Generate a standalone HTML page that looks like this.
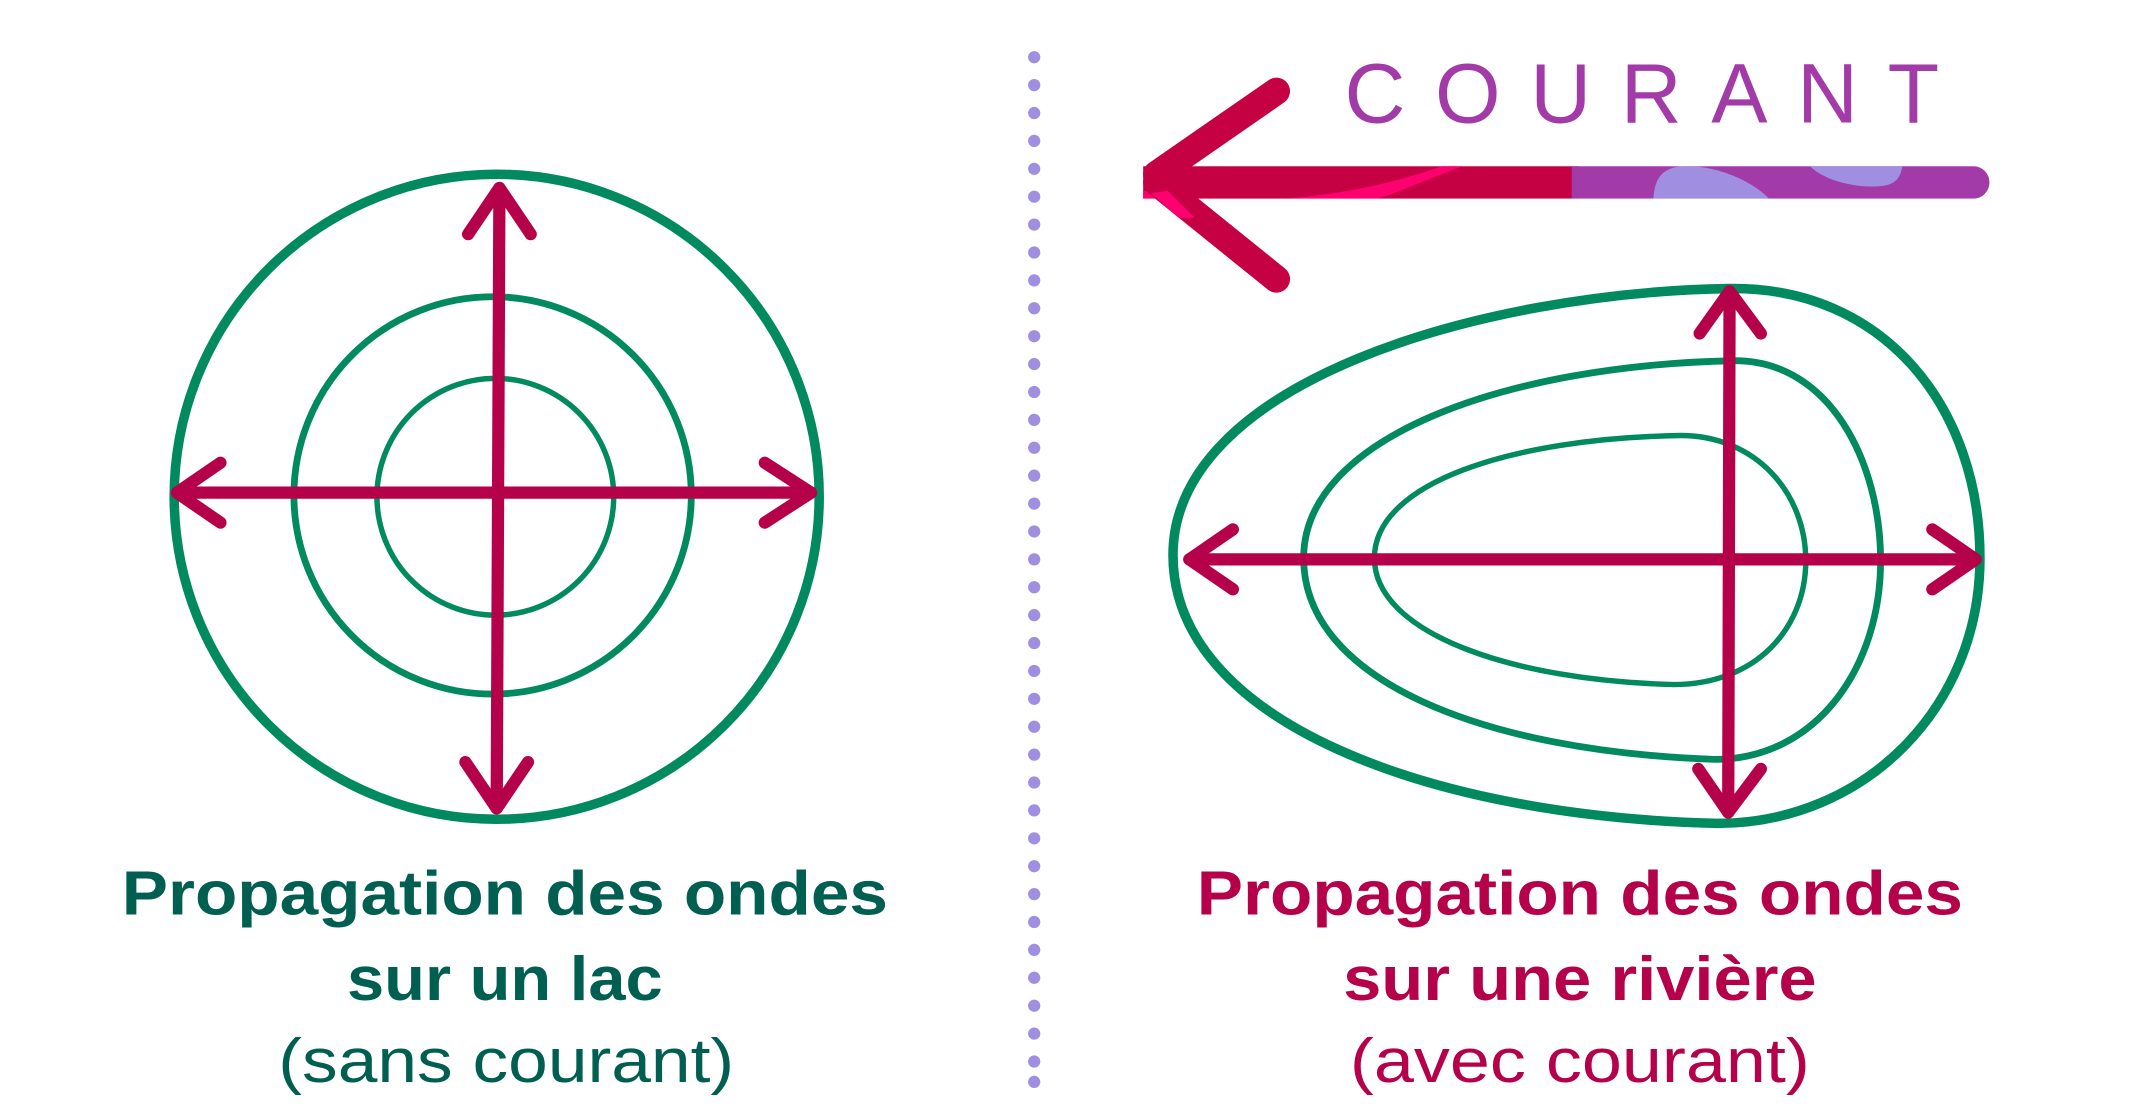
<!DOCTYPE html>
<html><head><meta charset="utf-8"><style>html,body{margin:0;padding:0;background:#fff}svg{display:block}</style></head><body>
<svg width="2131" height="1116" viewBox="0 0 1566 820" xmlns="http://www.w3.org/2000/svg">
<defs>
<clipPath id="bar"><path d="M840,122 H1450 A12,12 0 0 1 1450,146 H840 Z"/></clipPath>
</defs>
<g fill="#a08fe0">
<circle cx="760" cy="42" r="4.5"/><circle cx="760" cy="62.5" r="4.5"/><circle cx="760" cy="83" r="4.5"/><circle cx="760" cy="103.5" r="4.5"/><circle cx="760" cy="124" r="4.5"/><circle cx="760" cy="144.5" r="4.5"/><circle cx="760" cy="165" r="4.5"/><circle cx="760" cy="185.5" r="4.5"/><circle cx="760" cy="206" r="4.5"/><circle cx="760" cy="226.5" r="4.5"/><circle cx="760" cy="247" r="4.5"/><circle cx="760" cy="267.5" r="4.5"/><circle cx="760" cy="288" r="4.5"/><circle cx="760" cy="308.5" r="4.5"/><circle cx="760" cy="329" r="4.5"/><circle cx="760" cy="349.5" r="4.5"/><circle cx="760" cy="370" r="4.5"/><circle cx="760" cy="390.5" r="4.5"/><circle cx="760" cy="411" r="4.5"/><circle cx="760" cy="431.5" r="4.5"/><circle cx="760" cy="452" r="4.5"/><circle cx="760" cy="472.5" r="4.5"/><circle cx="760" cy="493" r="4.5"/><circle cx="760" cy="513.5" r="4.5"/><circle cx="760" cy="534" r="4.5"/><circle cx="760" cy="554.5" r="4.5"/><circle cx="760" cy="575" r="4.5"/><circle cx="760" cy="595.5" r="4.5"/><circle cx="760" cy="616" r="4.5"/><circle cx="760" cy="636.5" r="4.5"/><circle cx="760" cy="657" r="4.5"/><circle cx="760" cy="677.5" r="4.5"/><circle cx="760" cy="698" r="4.5"/><circle cx="760" cy="718.5" r="4.5"/><circle cx="760" cy="739" r="4.5"/><circle cx="760" cy="759.5" r="4.5"/><circle cx="760" cy="780" r="4.5"/><circle cx="760" cy="795" r="4.5"/>
</g>
<g fill="none" stroke="#008a5e">
<circle cx="365" cy="365" r="237" stroke-width="7"/>
<circle cx="362" cy="364" r="146" stroke-width="5"/>
<circle cx="364" cy="365" r="87" stroke-width="4"/>
</g>
<g fill="none" stroke="#b5004a" stroke-width="9" stroke-linecap="round" stroke-linejoin="round">
<line x1="367" y1="140" x2="365" y2="593"/>
<polyline points="344,172 367,138 390,172"/>
<polyline points="342,560 365,594 388,560"/>
<line x1="132" y1="362" x2="596" y2="362"/>
<polyline points="162,340 130,362 162,384"/>
<polyline points="562,340 596,362 562,384"/>
</g>
<g fill="none" stroke="#008a5e">
<path d="M862,408 C862,280 1090,215 1270,212 C1385,210 1455,300 1455,410 C1455,520 1370,605 1262,605 C1050,600 862,530 862,408 Z" stroke-width="7"/>
<path d="M958,410 C958,320 1110,268 1275,265 C1345,265 1382,340 1382,412 C1382,490 1335,558 1260,558 C1090,552 958,500 958,410 Z" stroke-width="5"/>
<path d="M1010,410 C1010,355 1110,322 1235,320 C1290,320 1327,362 1327,412 C1327,462 1290,503 1230,503 C1110,500 1010,465 1010,410 Z" stroke-width="4"/>
</g>
<g fill="none" stroke="#b5004a" stroke-width="9" stroke-linecap="round" stroke-linejoin="round">
<line x1="1271" y1="217" x2="1270" y2="597"/>
<polyline points="1249,245 1271,214 1294,245"/>
<polyline points="1248,565 1270,597 1294,565"/>
<line x1="874" y1="411" x2="1450" y2="411"/>
<polyline points="906,389 874,411 906,433"/>
<polyline points="1420,389 1452,411 1420,433"/>
</g>
<g clip-path="url(#bar)">
<rect x="840" y="122" width="320" height="24" fill="#c50043"/>
<rect x="1155" y="122" width="310" height="24" fill="#a23aa8"/>
<path d="M840,140 C900,152 980,150 1060,122 L1075,122 C1040,135 1020,145 1010,146 L840,146 Z" fill="#ff0070"/>
<path d="M1215,146 C1216,130 1222,122 1240,122 C1265,122 1290,135 1300,146 Z" fill="#a08fe0"/>
<path d="M1330,122 L1398,122 C1396,135 1388,137 1375,137 C1360,137 1340,132 1330,122 Z" fill="#a08fe0"/>
</g>
<line x1="938" y1="67" x2="850" y2="128" stroke="#c50043" stroke-width="20" stroke-linecap="round"/>
<line x1="850" y1="134" x2="938" y2="205" stroke="#c50043" stroke-width="20" stroke-linecap="round"/>
<path d="M846,142 L858,140 L878,160 L866,160 Z" fill="#ff0070"/>
<text x="988" y="90" font-family="Liberation Sans, sans-serif" font-size="62" fill="#a23aa8" textLength="437" lengthAdjust="spacing">COURANT</text>
<g font-family="Liberation Sans, sans-serif" text-anchor="middle">
<text x="371" y="672" font-size="46" font-weight="bold" fill="#005f50" textLength="563" lengthAdjust="spacingAndGlyphs">Propagation des ondes</text>
<text x="371" y="735" font-size="46" font-weight="bold" fill="#005f50" textLength="232" lengthAdjust="spacingAndGlyphs">sur un lac</text>
<text x="372" y="795" font-size="46" fill="#005f50" textLength="335" lengthAdjust="spacingAndGlyphs">(sans courant)</text>
<text x="1161" y="672" font-size="46" font-weight="bold" fill="#b5004a" textLength="563" lengthAdjust="spacingAndGlyphs">Propagation des ondes</text>
<text x="1161" y="735" font-size="46" font-weight="bold" fill="#b5004a" textLength="348" lengthAdjust="spacingAndGlyphs">sur une rivière</text>
<text x="1161" y="795" font-size="46" fill="#b5004a" textLength="338" lengthAdjust="spacingAndGlyphs">(avec courant)</text>
</g>
</svg>
</body></html>
